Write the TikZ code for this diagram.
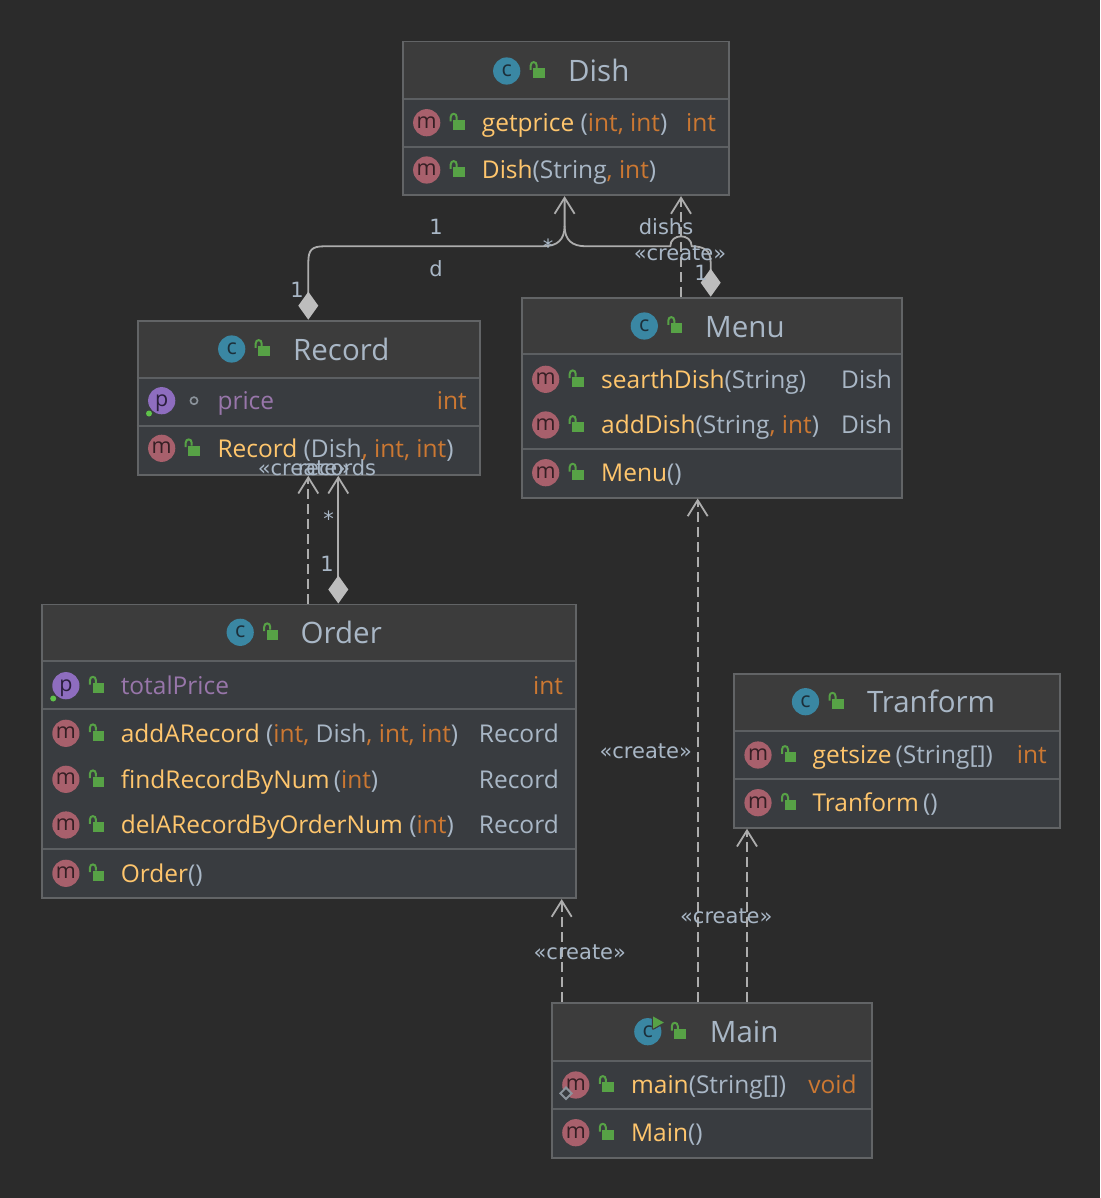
\documentclass[tikz,border=0pt]{standalone}
\usepackage{fontspec}
\usetikzlibrary{arrows.meta,calc}
\newfontfamily\ofont{Open Sans}
\newfontfamily\dfont{DejaVu Sans}
\newcommand\memfont{\ofont\fontsize{24.5}{28}\selectfont}
\newcommand\ttlfont{\ofont\fontsize{29.5}{32}\selectfont}
\newcommand\lblfont{\dfont\fontsize{21}{24}\selectfont}
\newcommand\icofont{\ofont\fontsize{21.5}{22}\selectfont}
\definecolor{bg}{HTML}{2B2B2B}
\definecolor{headbg}{HTML}{3C3C3C}
\definecolor{rowbg}{HTML}{393C40}
\definecolor{bordc}{HTML}{626466}
\definecolor{sepc}{HTML}{5C5F62}
\definecolor{titlec}{HTML}{A9B7C6}
\definecolor{mname}{HTML}{FFC66D}
\definecolor{kwc}{HTML}{CC7832}
\definecolor{tyc}{HTML}{A9B7C6}
\definecolor{fldc}{HTML}{9876AA}
\definecolor{lblc}{HTML}{A9B7C6}
\definecolor{linec}{HTML}{ADADAD}
\definecolor{diac}{HTML}{BDBDBD}
\definecolor{icC}{HTML}{3A87A3}
\definecolor{icCt}{HTML}{1C2F3A}
\definecolor{icM}{HTML}{A8606C}
\definecolor{icMt}{HTML}{351F24}
\definecolor{icP}{HTML}{8E6DBF}
\definecolor{icPt}{HTML}{2A1F3C}
\definecolor{lockc}{HTML}{57A246}
\definecolor{dotc}{HTML}{5FC24A}
\definecolor{pkgc}{HTML}{8C949C}
\newcommand\mn[1]{\textcolor{mname}{#1}}
\newcommand\ty[1]{\textcolor{tyc}{#1}}
\newcommand\kw[1]{\textcolor{kwc}{#1}}
\newcommand\fl[1]{\textcolor{fldc}{#1}}
% lock icon, relative to preceding icon centre
\newcommand\LockAt[2]{%
  \begin{scope}[shift={(#1,#2)}]
    \fill[lockc] (26.6,-2.7) rectangle (38,7.2);
    \draw[lockc,line width=2] (24,-1.2) -- (24,-5.5) .. controls (24,-10) and (30,-10) .. (30,-5.5) -- (30,-2.7);
  \end{scope}}
% icon with letter: name, x, y, fill, textcolour, letter
\newcommand\IconAt[6]{%
  \fill[#4] (#2,#3) circle[radius=13.6];
  \node[inner sep=0, anchor=base, font=\icofont, text=#5] (#1) at (#2,#3+5.6) {#6};
  \LockAt{#2}{#3}}
\tikzset{
  txt/.style={inner sep=0, anchor=base west, font=\memfont},
  rtxt/.style={inner sep=0, anchor=base west, font=\memfont},
  ttl/.style={inner sep=0, anchor=base west, font=\ttlfont, text=titlec},
  lbl/.style={inner sep=0, anchor=base, font=\lblfont, text=lblc},
  boxn/.style={draw=bordc, line width=1.8, inner sep=0, anchor=north west},
  sepl/.style={draw=sepc, line width=2.2},
  assoc/.style={draw=linec, line width=1.8},
  barb/.tip={Straight Barb[length=16pt,width=20pt,line width=1.8pt]},
  dia/.tip={Diamond[length=28pt,width=20pt,color=diac]},
  dep/.style={draw=linec, line width=1.8, dash pattern=on 10pt off 5pt, -barb},
}
\begin{document}
\begin{tikzpicture}[x=1pt,y=-1pt]
\fill[bg] (0,0) rectangle (1100,1198);
\useasboundingbox (0,0) rectangle (1100,1198);

% ---------------- Dish
\fill[rowbg] (401.7,40.7) rectangle (728.3,194.3);
\fill[headbg] (401.7,40.7) rectangle (728.3,99);
\draw[sepl] (401.7,99) -- (728.3,99) (401.7,146.7) -- (728.3,146.7);
\node[boxn, minimum width=326.6, minimum height=153.6] (dish) at (401.7,40.7) {};
\IconAt{dishI}{506.7}{71}{icC}{icCt}{c}
\node[ttl] (dishT) at (568,82) {Dish};
\IconAt{dishI1}{426.7}{122.7}{icM}{icMt}{m}
\node[txt] (dishR1) at (481.7,131.4) {\mn{getprice} \ty{(}\kw{int, int}\ty{)}};
\node[rtxt] (dishR1t) at (686,131.4) {\kw{int}};
\IconAt{dishI2}{426.7}{170}{icM}{icMt}{m}
\node[txt] (dishR2) at (481.7,178.7) {\mn{Dish}\ty{(String}\kw{, int}\ty{)}};

% ---------------- Record
\fill[rowbg] (136.7,319.7) rectangle (479,474);
\fill[headbg] (136.7,319.7) rectangle (479,377.7);
\draw[sepl] (136.7,377.7) -- (479,377.7) (136.7,425.7) -- (479,425.7);
\node[boxn, minimum width=342.3, minimum height=154.3] (record) at (136.7,319.7) {};
\IconAt{recI}{231.7}{349}{icC}{icCt}{c}
\node[ttl] (recT) at (293,360) {Record};
\fill[icP] (161.7,400.7) circle[radius=13.6];
\node[inner sep=0, anchor=base, font=\icofont, text=icPt] (recI1) at (161.7,406.3) {p};
\fill[dotc] (149,413.5) circle[radius=3];
\draw[pkgc, line width=1.6] (194,400.7) circle[radius=3.6];
\node[txt] (recR1) at (217.3,409.4) {\fl{price}};
\node[rtxt] (recR1t) at (436.7,409.4) {\kw{int}};
\IconAt{recI2}{161.7}{448.3}{icM}{icMt}{m}
\node[txt] (recR2) at (217.3,457) {\mn{Record} \ty{(Dish}\kw{, int, int}\ty{)}};

% ---------------- Menu
\fill[rowbg] (521,296.7) rectangle (901.3,496.7);
\fill[headbg] (521,296.7) rectangle (901.3,354.3);
\draw[sepl] (521,354.3) -- (901.3,354.3) (521,449) -- (901.3,449);
\node[boxn, minimum width=380.3, minimum height=200] (menu) at (521,296.7) {};
\IconAt{menuI}{644.3}{326}{icC}{icCt}{c}
\node[ttl] (menuT) at (705,337) {Menu};
\IconAt{menuI1}{545.7}{379.3}{icM}{icMt}{m}
\node[txt] (menuR1) at (601,388) {\mn{searthDish}\ty{(String)}};
\node[rtxt] (menuR1t) at (841,388) {\ty{Dish}};
\IconAt{menuI2}{545.7}{425}{icM}{icMt}{m}
\node[txt] (menuR2) at (601,433.7) {\mn{addDish}\ty{(String}\kw{, int}\ty{)}};
\node[rtxt] (menuR2t) at (841,433.7) {\ty{Dish}};
\IconAt{menuI3}{545.7}{472.7}{icM}{icMt}{m}
\node[txt] (menuR3) at (601,481.4) {\mn{Menu}\ty{()}};

% ---------------- Order
\fill[rowbg] (41.3,603.5) rectangle (575,897.3);
\fill[headbg] (41.3,603.5) rectangle (575,660.7);
\draw[sepl] (41.3,660.7) -- (575,660.7) (41.3,709) -- (575,709) (41.3,849) -- (575,849);
\node[boxn, minimum width=533.7, minimum height=293.8] (order) at (41.3,603.5) {};
\IconAt{ordI}{240.2}{632.3}{icC}{icCt}{c}
\node[ttl] (ordT) at (300.5,643.3) {Order};
\fill[icP] (65.9,685.7) circle[radius=13.6];
\node[inner sep=0, anchor=base, font=\icofont, text=icPt] (ordI1) at (65.9,691.3) {p};
\fill[dotc] (53.2,698.5) circle[radius=3];
\LockAt{65.9}{685.7}
\node[txt] (ordR1) at (120.6,694.4) {\fl{totalPrice}};
\node[rtxt] (ordR1t) at (533,694.4) {\kw{int}};
\IconAt{ordI2}{65.9}{733.3}{icM}{icMt}{m}
\node[txt] (ordR2) at (120.6,742) {\mn{addARecord} \ty{(}\kw{int,} \ty{Dish}\kw{, int, int}\ty{)}};
\node[rtxt] (ordR2t) at (478.7,742) {\ty{Record}};
\IconAt{ordI3}{65.9}{779.3}{icM}{icMt}{m}
\node[txt] (ordR3) at (120.6,788) {\mn{findRecordByNum}\,\ty{(}\kw{int}\ty{)}};
\node[rtxt] (ordR3t) at (478.7,788) {\ty{Record}};
\IconAt{ordI4}{65.9}{825}{icM}{icMt}{m}
\node[txt] (ordR4) at (120.6,833.7) {\mn{delARecordByOrderNum} \ty{(}\kw{int}\ty{)}};
\node[rtxt] (ordR4t) at (478.7,833.7) {\ty{Record}};
\IconAt{ordI5}{65.9}{873.3}{icM}{icMt}{m}
\node[txt] (ordR5) at (120.6,882) {\mn{Order}\ty{()}};

% ---------------- Tranform
\fill[rowbg] (733,673) rectangle (1059,827);
\fill[headbg] (733,673) rectangle (1059,731);
\draw[sepl] (733,731) -- (1059,731) (733,778.7) -- (1059,778.7);
\node[boxn, minimum width=326, minimum height=154] (tran) at (733,673) {};
\IconAt{trI}{805.5}{701.7}{icC}{icCt}{c}
\node[ttl] (trT) at (866.8,712.7) {Tranform};
\IconAt{trI1}{758}{755}{icM}{icMt}{m}
\node[txt] (trR1) at (812.4,763.7) {\mn{getsize}\,\ty{(String[])}};
\node[rtxt] (trR1t) at (1016.6,763.7) {\kw{int}};
\IconAt{trI2}{758}{802.7}{icM}{icMt}{m}
\node[txt] (trR2) at (812.4,811.4) {\mn{Tranform}\,\ty{()}};

% ---------------- Main
\fill[rowbg] (550.7,1002) rectangle (871,1156.7);
\fill[headbg] (550.7,1002) rectangle (871,1060.7);
\draw[sepl] (550.7,1060.7) -- (871,1060.7) (550.7,1109) -- (871,1109);
\node[boxn, minimum width=320.3, minimum height=154.7] (main) at (550.7,1002) {};
\IconAt{mainI}{647.8}{1031.7}{icC}{icCt}{c}
\draw[headbg, line width=2.5, fill=lockc, line join=round] (653,1016.4) -- (653,1028.6) -- (663.8,1022.5) -- cycle;
\fill[lockc] (653,1016.4) -- (653,1028.6) -- (663.8,1022.5) -- cycle;
\node[ttl] (mainT) at (709.7,1042.7) {Main};
\IconAt{mainI1}{575.8}{1085}{icM}{icMt}{m}
\draw[pkgc, line width=2, fill=rowbg] (566,1087.6) -- (571.6,1093.3) -- (566,1099) -- (560.4,1093.3) -- cycle;
\node[txt] (mainR1) at (630.9,1093.7) {\mn{main}\ty{(String[])}};
\node[rtxt] (mainR1t) at (808.2,1093.7) {\kw{void}};
\IconAt{mainI2}{575.8}{1132.7}{icM}{icMt}{m}
\node[txt] (mainR2) at (630.9,1141.4) {\mn{Main}\ty{()}};

% ---------------- connectors
% Record -> Dish (association, composition diamond)
\draw[assoc, dia-barb] ([xshift=171.6]record.north west) -- (308.3,262)
  .. controls (308.3,250) and (312,246.3) .. (324,246.3) -- (543,246.3)
  .. controls (557,246.3) and (564.6,240) .. (564.6,226) -- ([xshift=162.9]dish.south west);
% Menu -> Dish (association, composition diamond)
\draw[assoc, dia-] ([xshift=189.7]menu.north west) -- (710.7,263)
  .. controls (710.7,251) and (705,246.3) .. (691.7,246.3)
  .. controls (691.7,233) and (670.3,233) .. (670.3,246.3) -- (586,246.3)
  .. controls (572,246.3) and (564.6,240) .. (564.6,226);
% Menu -> Dish (create)
\draw[dep] ([xshift=160]menu.north west) -- ([xshift=279.3]dish.south west);
% Order -> Record
\draw[dep] ([xshift=267]order.north west) -- ([xshift=171.6]record.south west);
\draw[assoc, dia-barb] ([xshift=297]order.north west) -- ([xshift=201.6]record.south west);
% Main -> others
\draw[dep] ([xshift=11]main.north west) -- ([xshift=520.4]order.south west);
\draw[dep] ([xshift=147]main.north west) -- ([xshift=176.7]menu.south west);
\draw[dep] ([xshift=196.3]main.north west) -- ([xshift=14]tran.south west);

% ---------------- labels
\node[lbl] (l1) at (436,235) {1};
\node[lbl] (l2) at (548,254.4) {*};
\node[lbl] (l3) at (436,276) {d};
\node[lbl] (l4) at (297,297) {1};
\node[lbl] (l5) at (666,235) {dishs};
\node[lbl] (l6) at (680,260.7) {«create»};
\node[lbl] (l7) at (701,280.5) {1};
\node[lbl] (l8) at (304,475) {«create»};
\node[lbl] (l9) at (337,475) {records};
\node[lbl] (l10) at (328.7,526) {*};
\node[lbl] (l11) at (327,571.7) {1};
\node[lbl] (l12) at (645.7,758.7) {«create»};
\node[lbl] (l13) at (726.3,923.2) {«create»};
\node[lbl] (l14) at (579.8,959.2) {«create»};
\end{tikzpicture}
\end{document}
